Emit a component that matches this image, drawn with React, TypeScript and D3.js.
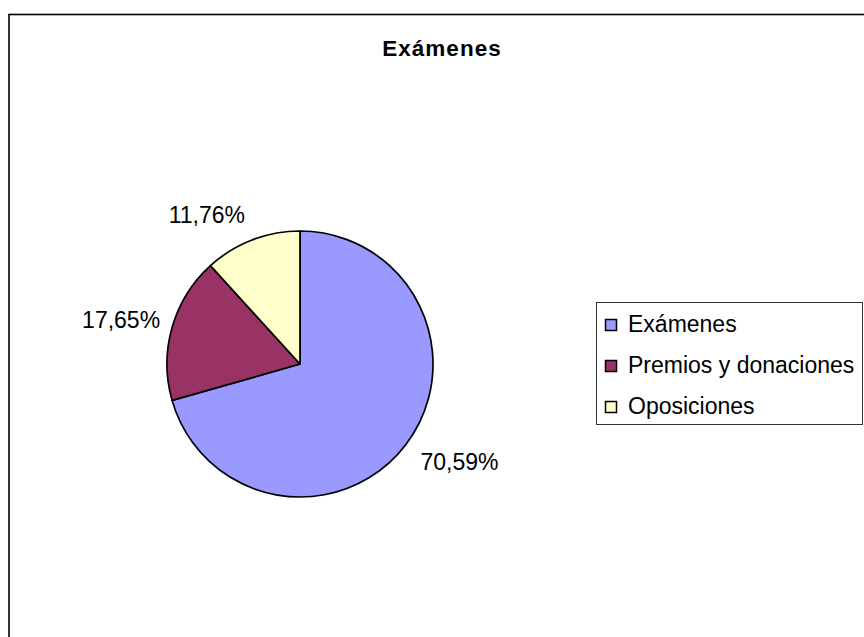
import React from "react";
import * as d3 from "d3";

const categories = ["Exámenes", "Premios y donaciones", "Oposiciones"];
const values = [70.59, 17.65, 11.76];
const labels = ["70,59%", "17,65%", "11,76%"];
const colors = ["#9999FF", "#993366", "#FFFFCC"];
const title = "Exámenes";

// layout-only nudges for data labels (Excel-like placement)
const labelNudge: [number, number][] = [
  [11, 4],
  [0, -1],
  [-26, -4],
];

const W = 864;
const H = 637;
const cx = 300;
const cy = 364;
const R = 133;
const font = "'Liberation Sans', Arial, sans-serif";
const labelFont = 23;

export default function App() {
  const pie = d3.pie<number>().sort(null).value((d) => d).startAngle(0).endAngle(2 * Math.PI);
  const arcs = pie(values);
  const arcGen = d3.arc<d3.PieArcDatum<number>>().innerRadius(0).outerRadius(R);

  return (
    <svg
      width={W}
      height={H}
      style={{ position: "absolute", left: 0, top: 0, background: "#fff" }}
    >
      <rect x={9} y={14.5} width={W + 20} height={H + 20} fill="#fff" stroke="#000" strokeWidth={1.6} />
      <text
        x={442}
        y={56}
        textAnchor="middle"
        fontFamily={font}
        fontWeight="bold"
        fontSize={22.5}
        letterSpacing={1}
        fill="#000"
      >
        {title}
      </text>
      <g transform={`translate(${cx},${cy})`}>
        {arcs.map((a, i) => (
          <path key={i} d={arcGen(a) || ""} fill={colors[i]} stroke="#000" strokeWidth={1.7} strokeLinejoin="round" />
        ))}
        {arcs.map((a, i) => {
          const mid = (a.startAngle + a.endAngle) / 2;
          const s = Math.sin(mid);
          const c = Math.cos(mid);
          const w = 78;
          const h = 17;
          const pad = 14;
          const lx = s * (R + w / 2 + pad) + labelNudge[i][0];
          const ly = -c * (R + h / 2 + pad) + labelNudge[i][1];
          return (
            <text
              key={"l" + i}
              x={lx}
              y={ly + 8}
              textAnchor="middle"
              fontFamily={font}
              fontSize={labelFont}
              fill="#000"
            >
              {labels[i]}
            </text>
          );
        })}
      </g>
      <rect x={596.5} y={302.5} width={266} height={122} fill="#fff" stroke="#333" strokeWidth={1} />
      {categories.map((c, i) => (
        <g key={c} transform={`translate(605, ${319 + i * 41})`}>
          <rect x={0.5} y={0.5} width={11} height={11} fill={colors[i]} stroke="#000" strokeWidth={1.5} />
          <text x={23} y={13} fontFamily={font} fontSize={23} fill="#000">
            {c}
          </text>
        </g>
      ))}
    </svg>
  );
}
